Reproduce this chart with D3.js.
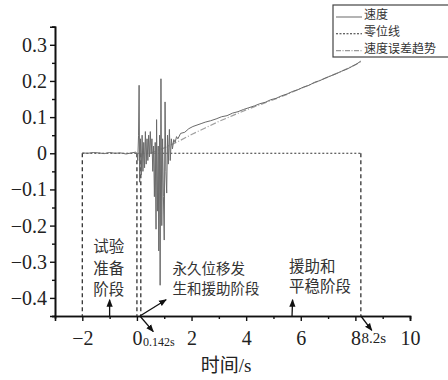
<!DOCTYPE html>
<html>
<head>
<meta charset="utf-8">
<script src="https://cdn.jsdelivr.net/npm/d3@7"></script>
<style>
  body { margin: 0; background: #fff; }
</style>
</head>
<body>
<svg id="chart" width="448" height="380"></svg>
<script>
// speed (速度)
const speedX = [-2.0, -1.8, -1.6, -1.4, -1.2, -1.0, -0.8, -0.6, -0.4, -0.2, -0.05,
  0.0, 0.03, 0.06, 0.08, 0.10, 0.13, 0.16, 0.19, 0.22, 0.25, 0.28, 0.31, 0.34, 0.37, 0.40,
  0.43, 0.46, 0.49, 0.52, 0.55, 0.58, 0.61, 0.64, 0.67, 0.70, 0.72, 0.75, 0.78, 0.80, 0.83,
  0.85, 0.88, 0.91, 0.94, 0.97, 1.00, 1.03, 1.06, 1.09, 1.12, 1.15, 1.19, 1.22, 1.26, 1.30,
  1.35, 1.40, 1.45, 1.50, 1.60, 1.75, 1.90, 2.05, 2.2, 2.35, 2.5, 2.7, 2.9, 3.1, 3.3, 3.5,
  3.7, 3.9, 4.1, 4.3, 4.5, 4.7, 4.9, 5.1, 5.3, 5.5, 5.7, 5.9, 6.1, 6.3, 6.5, 6.7, 6.9,
  7.1, 7.3, 7.5, 7.7, 7.9, 8.05, 8.2];
const speedY = [0.001, 0.0, 0.002, 0.001, -0.001, 0.002, 0.0, 0.001, -0.002, 0.001, 0.003,
  0.0, -0.02, 0.05, 0.188, -0.08, 0.04, -0.06, 0.05, -0.05, 0.03, -0.04, 0.06, -0.03, 0.04, -0.02,
  0.05, -0.01, 0.06, 0.0, 0.04, -0.05, 0.02, -0.12, 0.03, -0.21, 0.093, -0.16, 0.02, -0.27, 0.05,
  -0.365, 0.206, -0.2, 0.04, -0.12, -0.24, 0.142, -0.05, -0.11, 0.05, -0.03, 0.066, -0.02, 0.04, 0.012,
  0.038, 0.03, 0.046, 0.04, 0.055, 0.058, 0.068, 0.074, 0.078, 0.082, 0.086, 0.09, 0.095, 0.101, 0.104, 0.111,
  0.115, 0.121, 0.126, 0.131, 0.137, 0.141, 0.148, 0.152, 0.159, 0.164, 0.171, 0.176, 0.183, 0.188, 0.196, 0.201, 0.208,
  0.214, 0.22, 0.227, 0.233, 0.241, 0.247, 0.255];

// speed error trend (速度误差趋势)
const trendX = [0.5, 1.0, 1.5, 2.0, 2.5, 3.0, 3.5, 4.0, 4.5, 5.0, 5.5, 6.0, 6.5, 7.0, 7.5, 8.0, 8.2];
const trendY = [0.0, 0.015, 0.032, 0.052, 0.07, 0.088, 0.104, 0.12, 0.134, 0.148, 0.163, 0.179, 0.195, 0.211, 0.227, 0.245, 0.253];

// zero line (零位线) and stage boundaries
const zeroX = [-2, 8.2];
const stageX = [-2, 0, 0.142, 8.2];

const xTicks = [-2, 0, 2, 4, 6, 8, 10];
const xMinor = [-1, 1, 3, 5, 7, 9];
const yTicks = [0.3, 0.2, 0.1, 0, -0.1, -0.2, -0.3, -0.4];
const yMinor = [0.35, 0.25, 0.15, 0.05, -0.05, -0.15, -0.25, -0.35, -0.45];

const legendNames = ["速度", "零位线", "速度误差趋势"];

const serif = "'Liberation Serif', 'Times New Roman', 'DejaVu Serif', 'Noto Sans CJK SC', serif";
const cjk = "'Noto Sans CJK SC', sans-serif";

const svg = d3.select("#chart");
const x = d3.scaleLinear().domain([-3, 10]).range([55, 410]);
const y = d3.scaleLinear().domain([-0.45, 0.35]).range([316, 26.7]);

const fmt = d => d < 0 ? "\u2212" + Math.abs(d) : String(d);

// axes
const gx = svg.append("g").attr("transform", `translate(0,${y(-0.45)})`);
gx.call(d3.axisBottom(x).tickValues(xTicks).tickSize(5).tickPadding(10).tickFormat(fmt));
gx.append("g").call(d3.axisBottom(x).tickValues(xMinor).tickSize(3).tickFormat(""));
const gy = svg.append("g").attr("transform", `translate(${x(-3)},0)`);
gy.call(d3.axisLeft(y).tickValues(yTicks).tickSize(5).tickPadding(3).tickFormat(d => fmt(+d.toFixed(1))));
gy.append("g").call(d3.axisLeft(y).tickValues(yMinor).tickSize(3).tickFormat(""));
svg.selectAll("g").attr("font-family", null);
svg.selectAll(".domain").attr("stroke", "#111").attr("stroke-width", 1.6);
svg.selectAll(".tick line").attr("stroke", "#111").attr("stroke-width", 1.4);
svg.selectAll(".tick text").style("font-size", "20px").attr("fill", "#222")
  .style("font-family", serif);
gx.selectAll(".tick text").attr("dy", "0.72em");

// stage boundaries
svg.selectAll(".stage").data(stageX).enter().append("line")
  .attr("x1", d => x(d)).attr("x2", d => x(d))
  .attr("y1", y(0)).attr("y2", y(-0.45))
  .attr("stroke", "#333").attr("stroke-width", 1.3).attr("stroke-dasharray", "4,3");

// zero line
svg.append("line")
  .attr("x1", x(zeroX[0])).attr("x2", x(zeroX[1]))
  .attr("y1", y(0)).attr("y2", y(0))
  .attr("stroke", "#333").attr("stroke-width", 1.1).attr("stroke-dasharray", "2,2");

const line = d3.line().x(d => x(d[0])).y(d => y(d[1]));

svg.append("path")
  .datum(trendX.map((v, i) => [v, trendY[i]]))
  .attr("d", line).attr("fill", "none")
  .attr("stroke", "#a0a0a0").attr("stroke-width", 1.2).attr("stroke-dasharray", "6,2,1,2");

svg.append("path")
  .datum(speedX.map((v, i) => [v, speedY[i]]))
  .attr("d", line).attr("fill", "none")
  .attr("stroke", "#6a6a6a").attr("stroke-width", 1.0);

// annotations, one text block each with a line per tspan
const notes = [
  { lines: ["试验", "准备", "阶段"], x: -1.6, y: -0.259, gap: 21.3, size: 15.5 },
  { lines: ["永久位移发", "生和援助阶段"], x: 1.3, y: -0.32, gap: 19.5, size: 14.5 },
  { lines: ["援助和", "平稳阶段"], x: 5.57, y: -0.313, gap: 20.5, size: 15.5 }
];
notes.forEach(n => {
  const t = svg.append("text").attr("x", x(n.x)).attr("y", y(n.y))
    .style("font-size", n.size + "px").attr("fill", "#333").style("font-family", cjk);
  n.lines.forEach((s, i) => {
    t.append("tspan").attr("x", x(n.x)).attr("y", y(n.y) + i * n.gap)
      .attr("dy", "0.35em").text(s);
  });
});

svg.append("text").attr("x", x(0.22)).attr("y", y(-0.522)).attr("dy", "0.35em")
  .style("font-size", "12px").style("font-family", serif).attr("fill", "#222").text("0.142s");
svg.append("text").attr("x", x(8.22)).attr("y", y(-0.51)).attr("dy", "0.35em")
  .style("font-size", "15px").style("font-family", serif).attr("fill", "#222").text("8.2s");

// arrows
svg.append("defs").append("marker")
  .attr("id", "ah").attr("viewBox", "0 0 10 10").attr("refX", 9).attr("refY", 5)
  .attr("markerWidth", 6).attr("markerHeight", 6).attr("orient", "auto")
  .append("path").attr("d", "M0,1L10,5L0,9Z").attr("fill", "#111");
const arrows = [
  [-1, -0.45, -1, -0.405],
  [0.11, -0.45, 1.07, -0.405],
  [0.11, -0.45, 0.6, -0.493],
  [5.68, -0.45, 5.7, -0.405],
  [8.2, -0.45, 8.6, -0.49]
];
svg.selectAll(".arrow").data(arrows).enter().append("line")
  .attr("x1", d => x(d[0])).attr("y1", d => y(d[1]))
  .attr("x2", d => x(d[2])).attr("y2", d => y(d[3]))
  .attr("stroke", "#111").attr("stroke-width", 1.3).attr("marker-end", "url(#ah)");

// axis title
svg.append("text").attr("x", 226).attr("y", 372).attr("text-anchor", "middle")
  .style("font-size", "19px").style("font-family", serif).attr("fill", "#222").text("时间/s");

// legend
const lg = svg.append("g").attr("transform", "translate(333,5)");
lg.append("rect").attr("width", 130).attr("height", 52)
  .attr("fill", "#fff").attr("stroke", "#444").attr("stroke-width", 1.2);
const legendStyle = [
  { stroke: "#777", dash: null },
  { stroke: "#333", dash: "2,1.5" },
  { stroke: "#999", dash: "5,1.5,1,1.5" }
];
const lgText = lg.append("text").style("font-size", "12px").attr("fill", "#333")
  .style("font-family", cjk);
legendNames.forEach((name, i) => {
  const cy = 10 + i * 16.8;
  lg.append("line").attr("x1", 3).attr("x2", 29).attr("y1", cy + 2).attr("y2", cy + 2)
    .attr("stroke", legendStyle[i].stroke).attr("stroke-width", 1.1)
    .attr("stroke-dasharray", legendStyle[i].dash);
  lgText.append("tspan").attr("x", 31).attr("y", cy).attr("dy", "0.35em").text(name);
});
</script>
</body>
</html>
